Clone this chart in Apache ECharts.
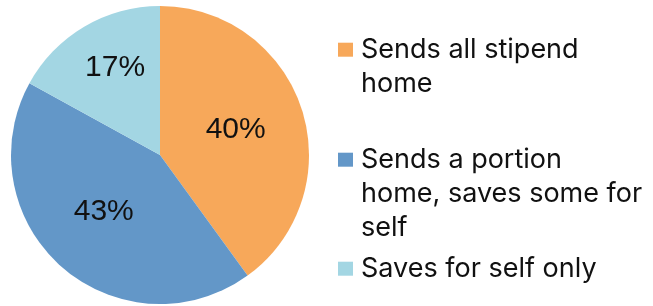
<!DOCTYPE html>
<html>
<head>
<meta charset="utf-8">
<script src="https://cdn.jsdelivr.net/npm/echarts@6/dist/echarts.min.js"></script>
<style>
html,body{margin:0;padding:0;background:#ffffff;}
#chart{width:653px;height:306px;}
</style>
</head>
<body>
<div id="chart"></div>
<script>
// Data
var categories = ['Sends all stipend home', 'Sends a portion home, saves some for self', 'Saves for self only'];
var legendLabels = ['Sends all stipend\nhome', 'Sends a portion\nhome, saves some for\nself', 'Saves for self only'];
var values = [40, 43, 17];

// Styles
var colors = ['#F7A85A', '#6397C8', '#A3D6E3'];
var legendTops = [-1.3, 74.7, 251.7];
var labelNudge = [[2, -1], [-5, -1], [-5.5, -21]];
var LH = 34;

var chart = echarts.init(document.getElementById('chart'), null, {renderer: 'canvas'});

function padLines(txt) {
  // prepend blank lines so the first text line sits level with the legend square
  var n = txt.split('\n').length;
  var pre = '';
  for (var k = 0; k < n - 1; k++) pre += ' \n';
  return pre + txt;
}

var legends = categories.map(function (name, i) {
  return {
    show: true,
    orient: 'vertical',
    left: 338,
    top: legendTops[i],
    padding: 0,
    itemGap: 0,
    itemWidth: 15,
    itemHeight: 14,
    icon: 'rect',
    selectedMode: false,
    data: [name],
    formatter: function (n) { return padLines(legendLabels[categories.indexOf(n)]); },
    textStyle: {
      fontFamily: 'Inter',
      fontSize: 27,
      lineHeight: LH,
      color: '#111111',
      padding: [0, 0, 0, 3]
    }
  };
});

var option = {
  animation: false,
  backgroundColor: '#ffffff',
  color: colors,
  legend: legends,
  series: [{
    type: 'pie',
    center: [160, 155],
    radius: [0, 149],
    startAngle: 90,
    clockwise: true,
    percentPrecision: 0,
    avoidLabelOverlap: false,
    itemStyle: {borderWidth: 0},
    label: {
      show: true,
      position: 'inside',
      formatter: '{d}%',
      fontFamily: 'Liberation Sans, Arial, sans-serif',
      fontSize: 30,
      color: '#111111'
    },
    labelLine: {show: false},
    labelLayout: function (params) {
      var n = labelNudge[params.dataIndex];
      return {dx: n[0], dy: n[1]};
    },
    emphasis: {disabled: true},
    data: categories.map(function (c, i) {
      return {name: c, value: values[i]};
    })
  }]
};
chart.setOption(option);
</script>
</body>
</html>
